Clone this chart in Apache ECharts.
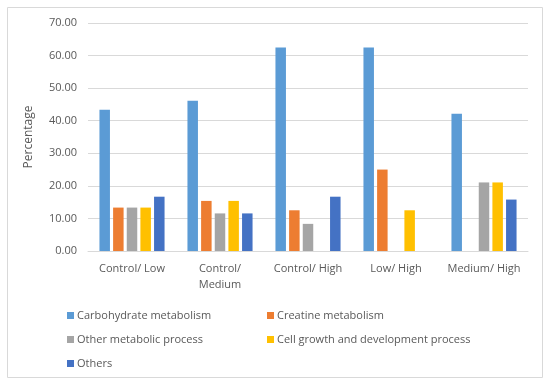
<!DOCTYPE html>
<html><head><meta charset="utf-8">
<script src="https://cdn.jsdelivr.net/npm/echarts@6/dist/echarts.min.js"></script>
<style>html,body{margin:0;padding:0;background:#fff}#c{width:550px;height:385px}</style>
</head><body><div id="c"></div>
<script>
const categories = ["Control/ Low", "Control/\nMedium", "Control/ High", "Low/ High", "Medium/ High"];
const seriesNames = ["Carbohydrate metabolism", "Creatine metabolism", "Other metabolic process", "Cell growth and development process", "Others"];
const carbohydrate = [43.33, 46.15, 62.50, 62.50, 42.11];
const creatine = [13.33, 15.38, 12.50, 25.00, 0];
const otherMetabolic = [13.33, 11.54, 8.33, 0, 21.05];
const cellGrowth = [13.33, 15.38, 0, 12.50, 21.05];
const others = [16.67, 11.54, 16.67, 0, 15.79];
const yTicks = [0, 10, 20, 30, 40, 50, 60, 70];

const colors = ["#5B9BD5", "#ED7D31", "#A5A5A5", "#FFC000", "#4472C4"];
const values = [carbohydrate, creatine, otherMetabolic, cellGrowth, others];
const font = "'Open Sans', 'Liberation Sans', sans-serif";
const legendPos = [[62, 305], [262, 305], [62, 329], [262, 329], [62, 353]];

const chart = echarts.init(document.getElementById('c'), null, {renderer: 'canvas'});
chart.setOption({
  animation: false,
  color: colors,
  graphic: [{type: 'rect', shape: {x: 7.5, y: 7.5, width: 535, height: 370}, style: {fill: 'none', stroke: '#d9d9d9', lineWidth: 1}, z: -1}],
  legend: seriesNames.map((n, i) => ({
    data: [n], left: legendPos[i][0], top: legendPos[i][1], itemWidth: 7, itemHeight: 7, itemGap: 4,
    icon: 'rect', textStyle: {color: '#595959', fontSize: 11, fontFamily: font, padding: [0, 0, 0, -2]}
  })),
  grid: {left: 88, right: 22, top: 23, bottom: 134},
  xAxis: {
    type: 'category', data: categories,
    axisLine: {lineStyle: {color: '#d9d9d9'}}, axisTick: {show: false},
    axisLabel: {color: '#595959', fontSize: 11, fontFamily: font, margin: 10, lineHeight: 16, interval: 0}
  },
  yAxis: {
    type: 'value', min: yTicks[0], max: yTicks[yTicks.length - 1], interval: 10,
    name: 'Percentage', nameLocation: 'middle', nameGap: 53, nameRotate: 90,
    nameTextStyle: {color: '#595959', fontSize: 12, fontFamily: font},
    axisLine: {show: false}, axisTick: {show: false},
    axisLabel: {color: '#595959', fontSize: 11, fontFamily: font, margin: 11, formatter: v => v.toFixed(2)},
    splitLine: {lineStyle: {color: '#d9d9d9'}}
  },
  series: seriesNames.map((n, i) => ({
    name: n, type: 'bar', data: values[i], barWidth: 10.5, barGap: '30%',
    itemStyle: {color: colors[i]}
  }))
});
</script></body></html>
